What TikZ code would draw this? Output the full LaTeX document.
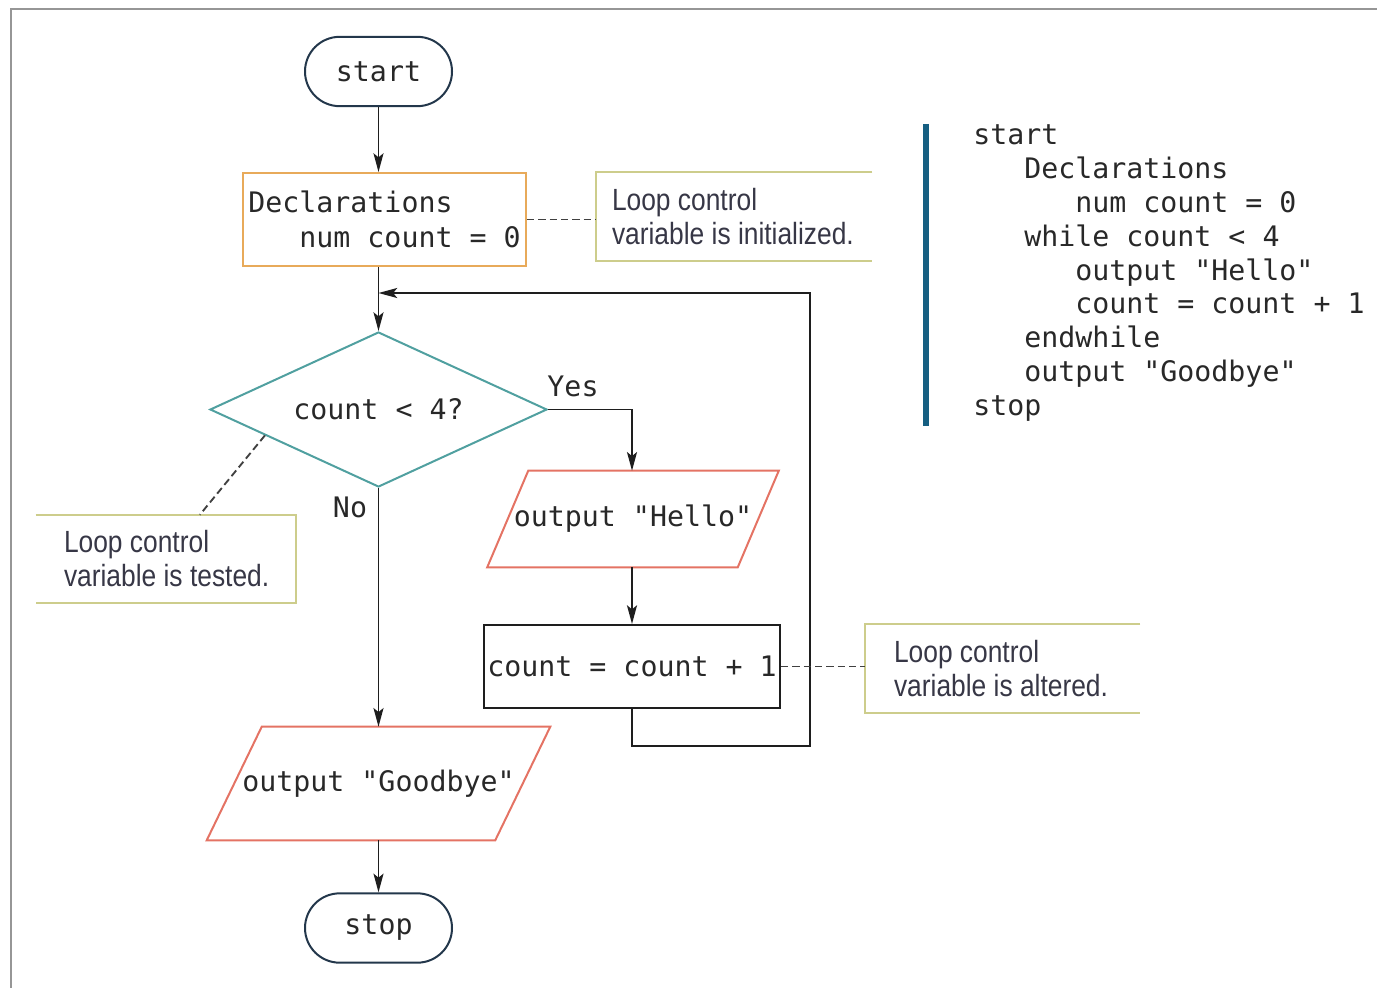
\documentclass[tikz,border=0pt]{standalone}
\usepackage{fontspec}
\setmainfont{Liberation Sans}
\setmonofont{DejaVu Sans Mono}
\newfontfamily\callfont[FakeStretch=0.86]{Liberation Sans}
\usetikzlibrary{shapes.geometric,shapes.misc,arrows.meta,calc}
\definecolor{termcol}{RGB}{35,55,75}
\definecolor{declcol}{RGB}{232,170,90}
\definecolor{diacol}{RGB}{80,160,160}
\definecolor{iocol}{RGB}{228,115,100}
\definecolor{callcol}{RGB}{205,205,140}
\definecolor{framecol}{RGB}{150,150,150}
\definecolor{barcol}{RGB}{22,95,130}
\definecolor{txtcol}{RGB}{40,40,40}
\definecolor{calltxt}{RGB}{55,55,70}
\definecolor{linecol}{RGB}{30,30,30}
\newcommand{\monosz}{\fontsize{21.2}{26.2}\selectfont\ttfamily}
\newcommand{\callsz}{\callfont\fontsize{23}{25.5}\selectfont}
\begin{document}
\begin{tikzpicture}[x=0.75pt,y=-0.75pt,
  every node/.style={text=txtcol, font=\monosz},
  term/.style={rounded rectangle, draw=termcol, line width=1.5pt, minimum width=110.25pt, minimum height=52pt, inner sep=0pt},
  declbox/.style={rectangle, draw=declcol, line width=1.5pt, minimum width=212.25pt, minimum height=69.75pt, align=left, inner sep=2pt},
  decision/.style={diamond, draw=diacol, line width=1.5pt, aspect=2.17, minimum width=252.75pt, minimum height=116.25pt, inner sep=0pt},
  iobox/.style={rectangle, draw=none, inner sep=0pt},
  ioline/.style={draw=iocol, line width=1.5pt, line join=miter},
  procbox/.style={rectangle, draw=linecol, line width=1.5pt, minimum width=222pt, minimum height=62.25pt, inner sep=0pt},
  callbox/.style={rectangle, draw=none, minimum height=66.75pt, inner sep=0pt},
  callline/.style={draw=callcol, line width=1.6pt},
  calltext/.style={font=\callsz, text=calltxt, align=left, inner sep=0pt, anchor=west},
  arr/.style={draw=linecol, line width=1.4pt, -{Stealth[length=14pt,width=7.5pt,inset=3pt]}},
  dashline/.style={draw=linecol!85, line width=1.4pt, dash pattern=on 5.5pt off 3pt},
  codeline/.style={anchor=base west, inner sep=0pt}
]
\useasboundingbox (0,0) rectangle (1377,988);
% frame
\draw[framecol, line width=2.2pt] (11,988) -- (11,9) -- (1377,9);

% flowchart nodes
\node[term] (start) at (378.5,71.5) {start};
\node[declbox] (decl) at (384.5,219.5) {Declarations\\\phantom{000}num count = 0};
\node[decision] (dia) at (378.5,409.5) {count < 4?};
\node[iobox, minimum width=187.5pt, minimum height=72pt] (hello) at (633,519) {output "Hello"};
\draw[ioline] ([xshift=15.375pt]hello.north west) -- ([xshift=15.375pt]hello.north east)
  -- ([xshift=-15.375pt]hello.south east) -- ([xshift=-15.375pt]hello.south west) -- cycle;
\node[procbox] (cnt) at (632,666.5) {count = count + 1};
\node[iobox, minimum width=216pt, minimum height=84.75pt] (bye) at (378.5,783.5) {output "Goodbye"};
\draw[ioline] ([xshift=20.625pt]bye.north west) -- ([xshift=20.625pt]bye.north east)
  -- ([xshift=-20.625pt]bye.south east) -- ([xshift=-20.625pt]bye.south west) -- cycle;
\node[term] (stop) at (378.5,928) {stop};

\node (yes) at (573,386) {Yes};
\node (no) at (350,507) {No};

% callouts
\node[callbox, minimum width=207pt] (c1) at (734,216.5) {};
\node[callbox, minimum width=195pt, minimum height=66pt] (c2) at (166,559) {};
\node[callbox, minimum width=206.25pt] (c3) at (1002.5,668.5) {};
\draw[callline] (c1.north east) -- (c1.north west) -- (c1.south west) -- (c1.south east);
\draw[callline] (c2.north west) -- (c2.north east) -- (c2.south east) -- (c2.south west);
\draw[callline] (c3.north east) -- (c3.north west) -- (c3.south west) -- (c3.south east);
\node[calltext] (c1t) at ([xshift=12pt]c1.west) {Loop control\\variable is initialized.};
\node[calltext] (c2t) at ([xshift=21pt]c2.west) {Loop control\\variable is tested.};
\node[calltext] (c3t) at ([xshift=21.75pt]c3.west) {Loop control\\variable is altered.};

% connectors
\draw[arr] (start.south) -- (start.south |- decl.north);
\draw[arr] (decl.south -| dia.north) -- (dia.north);
\draw[arr] (dia.east) -| (cnt.north |- hello.north);
\draw[arr] (cnt.north |- hello.south) -- (cnt.north);
\coordinate (lbr) at (810,746);
\coordinate (lbt) at (810,293);
\draw[arr] (cnt.south) |- (lbr) -- (lbt) -- (lbt -| dia.north);
\draw[arr] (dia.south) -- (dia.south |- bye.north);
\draw[arr] (bye.south -| stop.north) -- (stop.north);

% dashed leaders
\draw[dashline] (decl.east) -- (decl.east -| c1.west);
\draw[dashline] ($(dia.west)!0.33!(dia.south)$) -- ($(c2.north west)!0.63!(c2.north east)$);
\draw[dashline] (cnt.east) -- (cnt.east -| c3.west);

% pseudocode
\draw[barcol, line width=4.5pt] (926,124) -- (926,426);
\node[codeline] (code1) at (973,145) {start};
\node[codeline] (code2) at (1024,178.8) {Declarations};
\node[codeline] (code3) at (1075,212.5) {num count = 0};
\node[codeline] (code4) at (1024,246.3) {while count < 4};
\node[codeline] (code5) at (1075,280) {output "Hello"};
\node[codeline] (code6) at (1075,313.8) {count = count + 1};
\node[codeline] (code7) at (1024,347.5) {endwhile};
\node[codeline] (code8) at (1024,381.3) {output "Goodbye"};
\node[codeline] (code9) at (973,415) {stop};
\end{tikzpicture}
\end{document}
